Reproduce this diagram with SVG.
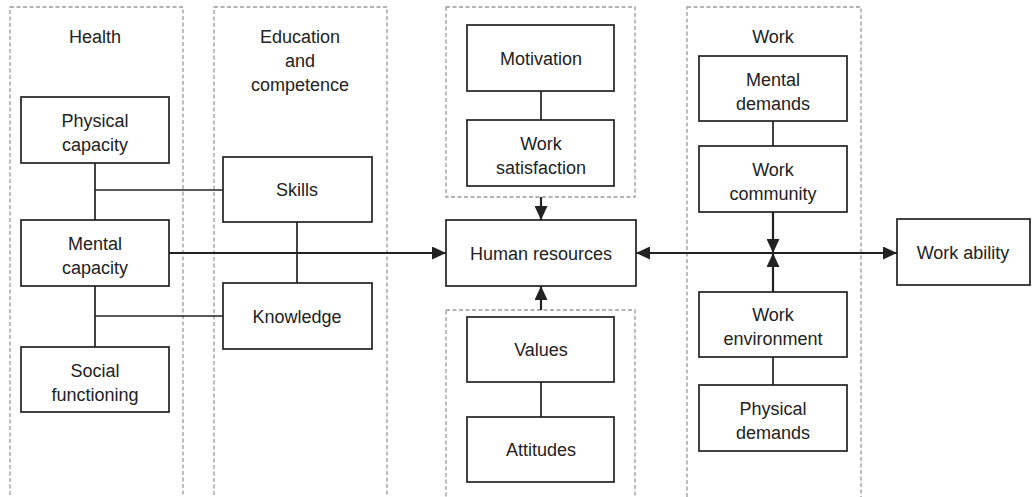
<svg xmlns="http://www.w3.org/2000/svg" width="1036" height="497" viewBox="0 0 1036 497">
<style>
.grp{fill:none;stroke:#9a9a9a;stroke-width:1.3;stroke-dasharray:4 2.5}
.box{fill:#fff;stroke:#222;stroke-width:1.7}
.t{font-family:"Liberation Sans",Arial,sans-serif;font-size:18px;fill:#222;text-anchor:middle}
.ln{stroke:#222;stroke-width:1.7;fill:none}
.ar{stroke:#222;stroke-width:2.2;fill:none}
</style>
<defs>
<marker id="ah" markerUnits="userSpaceOnUse" markerWidth="14" markerHeight="13" refX="14" refY="6.5" orient="auto-start-reverse" viewBox="0 0 14 13">
<path d="M0,0 L14,6.5 L0,13 z" fill="#222"/>
</marker>
</defs>
<g id="groups">
<rect class="grp" x="10" y="7" width="173" height="500"/>
<rect class="grp" x="214" y="7" width="173" height="500"/>
<rect class="grp" x="446" y="7" width="189" height="190"/>
<rect class="grp" x="446" y="310" width="189" height="200"/>
<rect class="grp" x="687" y="7" width="174" height="500"/>
<text class="t" x="95" y="43">Health</text>
<text class="t" x="300" y="43">Education</text>
<text class="t" x="300" y="67">and</text>
<text class="t" x="300" y="91">competence</text>
<text class="t" x="773" y="43">Work</text>
</g>
<g id="connectors">
<line class="ln" x1="95" y1="163" x2="95" y2="220"/>
<line class="ln" x1="95" y1="190" x2="223" y2="190"/>
<line class="ln" x1="95" y1="286" x2="95" y2="347"/>
<line class="ln" x1="95" y1="316" x2="223" y2="316"/>
<line class="ln" x1="297" y1="222" x2="297" y2="283"/>
<line class="ar" x1="169" y1="253" x2="446" y2="253" marker-end="url(#ah)"/>
<line class="ln" x1="541" y1="91" x2="541" y2="120"/>
<line class="ar" x1="541" y1="197" x2="541" y2="220" marker-end="url(#ah)"/>
<line class="ar" x1="541" y1="310" x2="541" y2="286" marker-end="url(#ah)"/>
<line class="ln" x1="541" y1="382" x2="541" y2="417"/>
<line class="ln" x1="773" y1="121" x2="773" y2="146"/>
<line class="ar" x1="773" y1="212" x2="773" y2="253" marker-end="url(#ah)"/>
<line class="ar" x1="773" y1="292" x2="773" y2="253" marker-end="url(#ah)"/>
<line class="ln" x1="773" y1="357" x2="773" y2="385"/>
<line class="ar" x1="636" y1="253" x2="897" y2="253" marker-start="url(#ah)" marker-end="url(#ah)"/>
</g>
<g id="physical-capacity"><rect class="box" x="21" y="97" width="148" height="66"/><text class="t" x="95" y="127">Physical</text><text class="t" x="95" y="151">capacity</text></g>
<g id="mental-capacity"><rect class="box" x="21" y="220" width="148" height="66"/><text class="t" x="95" y="250">Mental</text><text class="t" x="95" y="274">capacity</text></g>
<g id="social-functioning"><rect class="box" x="21" y="347" width="148" height="65"/><text class="t" x="95" y="377">Social</text><text class="t" x="95" y="401">functioning</text></g>
<g id="skills"><rect class="box" x="223" y="157" width="149" height="65"/><text class="t" x="297" y="196">Skills</text></g>
<g id="knowledge"><rect class="box" x="223" y="283" width="149" height="66"/><text class="t" x="297" y="323">Knowledge</text></g>
<g id="motivation"><rect class="box" x="467" y="25" width="147" height="66"/><text class="t" x="541" y="65">Motivation</text></g>
<g id="work-satisfaction"><rect class="box" x="467" y="120" width="147" height="66"/><text class="t" x="541" y="150">Work</text><text class="t" x="541" y="174">satisfaction</text></g>
<g id="human-resources"><rect class="box" x="446" y="220" width="190" height="66"/><text class="t" x="541" y="260">Human resources</text></g>
<g id="values"><rect class="box" x="467" y="317" width="147" height="65"/><text class="t" x="541" y="356">Values</text></g>
<g id="attitudes"><rect class="box" x="467" y="417" width="147" height="65"/><text class="t" x="541" y="456">Attitudes</text></g>
<g id="mental-demands"><rect class="box" x="699" y="56" width="148" height="65"/><text class="t" x="773" y="86">Mental</text><text class="t" x="773" y="110">demands</text></g>
<g id="work-community"><rect class="box" x="699" y="146" width="148" height="66"/><text class="t" x="773" y="176">Work</text><text class="t" x="773" y="200">community</text></g>
<g id="work-environment"><rect class="box" x="699" y="292" width="148" height="65"/><text class="t" x="773" y="321">Work</text><text class="t" x="773" y="345">environment</text></g>
<g id="physical-demands"><rect class="box" x="699" y="385" width="148" height="66"/><text class="t" x="773" y="415">Physical</text><text class="t" x="773" y="439">demands</text></g>
<g id="work-ability"><rect class="box" x="897" y="219" width="133" height="66"/><text class="t" x="963" y="259">Work ability</text></g>
</svg>
